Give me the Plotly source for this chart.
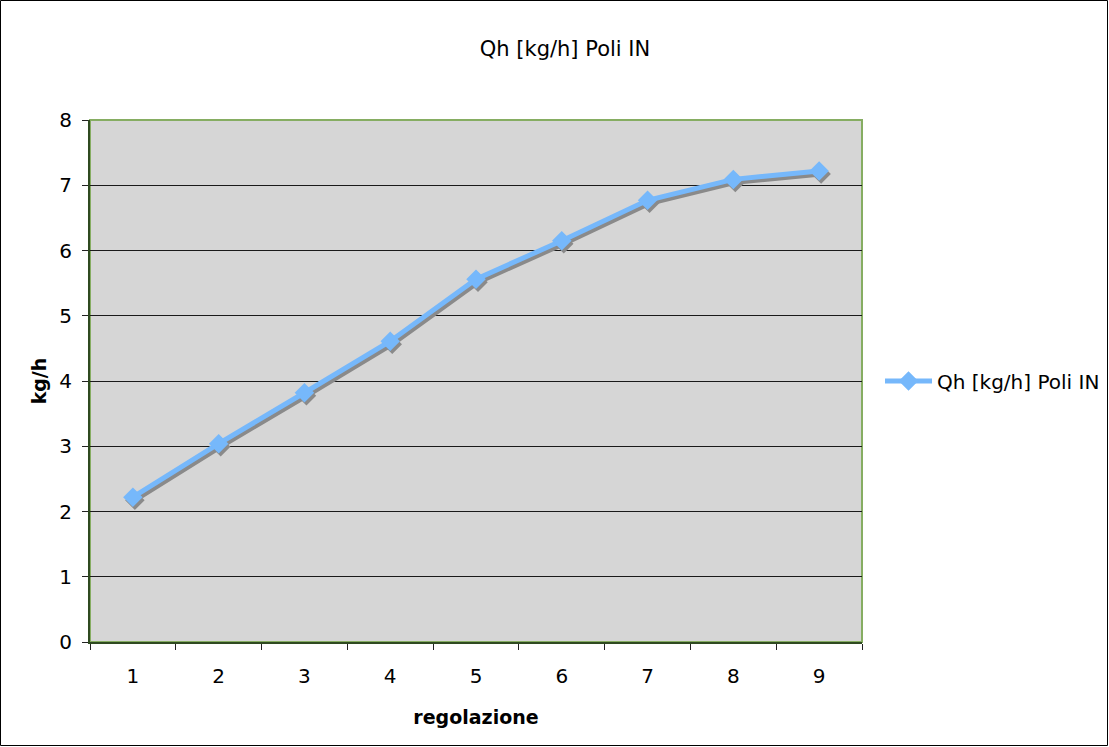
import plotly.graph_objects as go

categories = ["1", "2", "3", "4", "5", "6", "7", "8", "9"]
values = [2.22, 3.04, 3.82, 4.61, 5.56, 6.15, 6.77, 7.09, 7.22]
series_name = "Qh [kg/h] Poli IN"
chart_title = "Qh [kg/h] Poli IN"
x_title = "regolazione"
y_title = "kg/h"

W, H = 1109, 747
L, R, T, B = 90, 247, 120, 105
pw, ph = W - L - R, H - T - B

xr = [-0.5, 8.5]
yr = [0, 8]
# shadow offset in pixels
sdx, sdy = 2, 3
ux = (xr[1] - xr[0]) / pw
uy = (yr[1] - yr[0]) / ph

FONT = "DejaVu Sans"
blue = "#76B8FB"

fig = go.Figure()
# base (invisible) trace to set categories
fig.add_trace(go.Scatter(x=categories, y=values, mode="lines", line=dict(width=0),
                         opacity=0, showlegend=False, hoverinfo="skip"))
# shadow
fig.add_trace(go.Scatter(x=categories, y=values, mode="lines+markers", xaxis="x2", yaxis="y2",
                         line=dict(color="#8A8A8A", width=5),
                         marker=dict(symbol="diamond", size=15, color="#8A8A8A"),
                         showlegend=False, hoverinfo="skip"))
# main
fig.add_trace(go.Scatter(x=categories, y=values, mode="lines+markers", xaxis="x3", yaxis="y3",
                         name=series_name,
                         line=dict(color=blue, width=5),
                         marker=dict(symbol="diamond", size=15, color=blue)))

def px2paper_x(p):
    return (p - L) / pw

def px2paper_y(p):
    return (H - B - p) / ph

fig.update_layout(
    width=W, height=H,
    margin=dict(l=L, r=R, t=T, b=B, autoexpand=False),
    paper_bgcolor="white",
    plot_bgcolor="#D6D6D6",
    font=dict(family=FONT, size=20, color="black"),
    title=dict(text=chart_title, x=565 / W, xref="container", y=1 - 49 / H, yref="container",
               xanchor="center", yanchor="middle", font=dict(size=21, family=FONT)),
    xaxis=dict(type="category", categoryorder="array", categoryarray=categories,
               range=xr, tickson="boundaries", ticks="outside", ticklen=6,
               tickcolor="#222", showgrid=False, showline=True, linecolor="#2F4A20",
               linewidth=2, zeroline=False, tickfont=dict(size=20), ticklabelstandoff=15,
               automargin=False,
               title=dict(text=x_title, standoff=24, font=dict(size=19, family=FONT, weight="bold"))),
    yaxis=dict(range=yr, dtick=1, ticks="outside", ticklen=6, tickcolor="#222",
               showgrid=True, gridcolor="#1A1A1A", gridwidth=1,
               showline=True, linecolor="#2F4A20", linewidth=2, zeroline=False,
               tickfont=dict(size=20), ticklabelstandoff=6, automargin=False,
               title=dict(text=y_title, standoff=8, font=dict(size=19, family=FONT, weight="bold"))),
    xaxis2=dict(type="category", categoryorder="array", categoryarray=categories,
                overlaying="x", range=[xr[0] - sdx * ux, xr[1] - sdx * ux], visible=False),
    yaxis2=dict(overlaying="y", range=[yr[0] + sdy * uy, yr[1] + sdy * uy], visible=False),
    xaxis3=dict(type="category", categoryorder="array", categoryarray=categories,
                overlaying="x", range=xr, visible=False),
    yaxis3=dict(overlaying="y", range=yr, visible=False),
    legend=dict(x=px2paper_x(880), y=px2paper_y(381), xanchor="left", yanchor="middle",
                bgcolor="rgba(0,0,0,0)", font=dict(size=20, family=FONT),
                itemwidth=47),
    showlegend=True,
    shapes=[
        dict(type="rect", xref="paper", yref="paper", x0=0, x1=1, y0=0, y1=1,
             line=dict(color="#86AD62", width=2), layer="below"),
        dict(type="rect", xref="paper", yref="paper",
             x0=px2paper_x(0.5), x1=px2paper_x(W - 1.5), y0=px2paper_y(0.5), y1=px2paper_y(H - 1.5),
             line=dict(color="#000000", width=1)),
    ],
)

fig.write_html("out.html", config={"displayModeBar": False},
               post_script="document.body.style.margin='0';")
